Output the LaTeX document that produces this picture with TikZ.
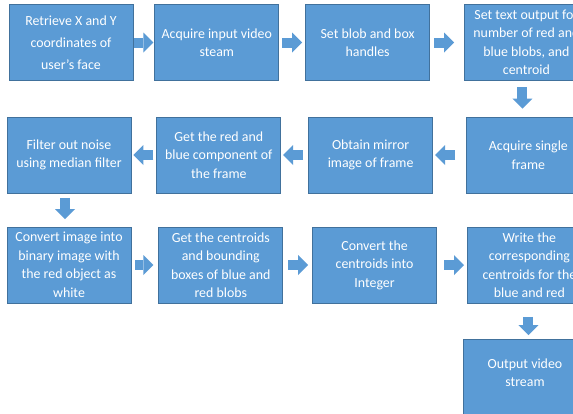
\documentclass[tikz,border=0pt]{standalone}
\usepackage{fontspec}
\setmainfont{Carlito}
\usepackage{xcolor}
\usepackage{tikz}
\usetikzlibrary{arrows.meta, positioning}

\definecolor{boxblue}{HTML}{5B9BD5}
\definecolor{edgeblue}{HTML}{41719C}

\begin{document}
\begin{tikzpicture}[
    x=1pt, y=-1pt,
    stage/.style={draw=edgeblue, line width=0.8pt, fill=boxblue, rectangle,
                  minimum width=124pt, minimum height=76pt, inner sep=0pt,
                  align=center, text=white, font=\fontsize{13.9}{18.5}\selectfont},
    flow/.style={draw=boxblue, line width=10pt,
                 -{Triangle[length=10pt, width=20pt, line width=0pt]}},
    node distance=21pt
]
\useasboundingbox (0,0) rectangle (573,413);
\fill[white] (0,0) rectangle (573,413);
\clip (0,0) rectangle (573,413);

% first row, left to right
\node[stage, font=\fontsize{13.9}{22}\selectfont] (b1) at (71,42.5)
    {Retrieve X and Y\\ coordinates of\\ user’s face};
\node[stage, right=21pt of b1] (b2) {Acquire input video\\ steam};
\node[stage, right=26pt of b2] (b3) {Set blob and box\\ handles};
\node[stage, right=34pt of b3] (b4)
    {Set text output for\\ number of red and\\ blue blobs, and\\ centroid};

% second row, right to left
\node[stage] (c1) at (69,155) {Filter out noise\\ using median filter};
\node[stage, right=25pt of c1] (c2) {Get the red and\\ blue component of\\ the frame};
\node[stage, right=27pt of c2] (c3) {Obtain mirror\\ image of frame};
\node[stage, right=33pt of c3] (c4) {Acquire single\\ frame};

% third row
\node[stage] (d1) at (69,265)
    {Convert image into\\ binary image with\\ the red object as\\ white};
\node[stage, right=27pt of d1] (d2)
    {Get the centroids\\ and bounding\\ boxes of blue and\\ red blobs};
\node[stage, right=29pt of d2] (d3) {Convert the\\ centroids into\\ Integer};
\node[stage, right=30pt of d3] (d4)
    {Write the\\ corresponding\\ centroids for the\\ blue and red};
\node[stage, text depth=10pt] (e4) at (525,377.5) {Output video\\ stream};

% block arrows
\draw[flow, shorten <=1pt, shorten >=1pt] (b1) -- (b2);
\draw[flow, shorten <=3pt, shorten >=3pt] (b2) -- (b3);
\draw[flow, shorten <=4pt, shorten >=10pt] (b3) -- (b4);
\draw[flow, shorten <=6.5pt, shorten >=8pt]
    ([xshift=-4pt]b4.south) -- ([xshift=-4pt]b4.south |- c4.north);
\draw[flow, shorten <=11pt, shorten >=2pt] (c4) -- (c3);
\draw[flow, shorten <=5pt, shorten >=2pt] (c3) -- (c2);
\draw[flow, shorten <=3pt, shorten >=2pt] (c2) -- (c1);
\draw[flow, shorten <=4.5pt, shorten >=7.5pt]
    ([xshift=-4pt]c1.south) -- ([xshift=-4pt]c1.south |- d1.north);
\draw[flow, shorten <=4pt, shorten >=5pt] (d1) -- (d2);
\draw[flow, shorten <=5pt, shorten >=4pt] (d2) -- (d3);
\draw[flow, shorten <=7pt, shorten >=3pt] (d3) -- (d4);
\draw[flow, shorten <=13.5pt, shorten >=4pt]
    ([xshift=-1pt]d4.south) -- ([xshift=-1pt]d4.south |- e4.north);
\end{tikzpicture}
\end{document}
